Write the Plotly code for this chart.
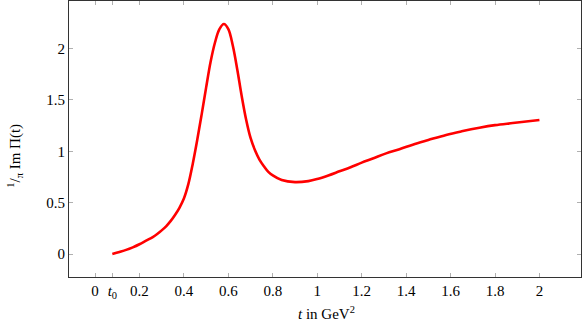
import plotly.graph_objects as go

t_vals = [0.078, 0.11, 0.14, 0.17, 0.20, 0.23, 0.26, 0.28, 0.30, 0.32,
          0.34, 0.36, 0.38, 0.40, 0.42, 0.44, 0.46, 0.48, 0.50, 0.52,
          0.54, 0.56, 0.58, 0.60, 0.62, 0.64, 0.66, 0.68, 0.70, 0.72,
          0.74, 0.76, 0.78, 0.80, 0.84, 0.90, 0.96, 1.00, 1.05, 1.10,
          1.15, 1.20, 1.25, 1.31, 1.37, 1.43, 1.50, 1.58, 1.65, 1.73,
          1.80, 1.88, 1.94, 2.00]
im_vals = [0.0, 0.02, 0.04, 0.065, 0.095, 0.13, 0.165, 0.195, 0.23, 0.27,
           0.32, 0.38, 0.45, 0.54, 0.68, 0.88, 1.11, 1.36, 1.62, 1.87,
           2.06, 2.19, 2.24, 2.19, 2.03, 1.80, 1.54, 1.31, 1.13, 1.01,
           0.92, 0.855, 0.80, 0.765, 0.72, 0.70, 0.71, 0.73, 0.765, 0.805,
           0.845, 0.89, 0.93, 0.98, 1.02, 1.065, 1.11, 1.16, 1.195, 1.23,
           1.255, 1.275, 1.29, 1.305]

x_tickvals = [0, 0.078, 0.2, 0.4, 0.6, 0.8, 1, 1.2, 1.4, 1.6, 1.8, 2]
x_ticktext = ["0", "<i>t</i><sub>0</sub>", "0.2", "0.4", "0.6", "0.8", "1", "1.2", "1.4", "1.6", "1.8", "2"]
y_tickvals = [0, 0.5, 1, 1.5, 2]
y_ticktext = ["0", "0.5", "1", "1.5", "2"]

font = "Liberation Serif"

fig = go.Figure()
fig.add_trace(go.Scatter(x=t_vals, y=im_vals, mode="lines",
                         line=dict(color="#ff0000", width=2.6, shape="spline", smoothing=1.0),
                         showlegend=False))

axis_common = dict(showgrid=False, zeroline=False, showline=True, linecolor="#333333",
                   linewidth=1, mirror="ticks", ticks="inside", ticklen=4,
                   tickcolor="#b0b0b0", tickwidth=1, automargin=False,
                   tickfont=dict(family=font, size=15, color="black"))

fig.update_layout(
    width=582, height=323,
    margin=dict(l=69, r=1, t=1, b=46),
    plot_bgcolor="white", paper_bgcolor="white",
    font=dict(family=font, color="black"),
    xaxis=dict(range=[-0.117, 2.187], tickvals=x_tickvals, ticktext=x_ticktext, **axis_common),
    yaxis=dict(range=[-0.224, 2.464], tickvals=y_tickvals, ticktext=y_ticktext, **axis_common),
    annotations=[
        dict(text="<i>t</i> in GeV<sup>2</sup>", xref="paper", yref="paper",
             x=0.502, y=-0.13, xanchor="center", yanchor="middle", showarrow=False,
             font=dict(family=font, size=15, color="black")),
        dict(text="<sup>1</sup>/<sub>π</sub> Im Π(t)", xref="paper", yref="paper",
             x=-0.107, y=0.44, xanchor="center", yanchor="middle", showarrow=False,
             textangle=-90, font=dict(family=font, size=15, color="black")),
    ],
)

fig.write_html("out.html", config={"responsive": False, "displayModeBar": False},
               post_script="document.body.style.margin='0';document.body.style.overflow='hidden';")
